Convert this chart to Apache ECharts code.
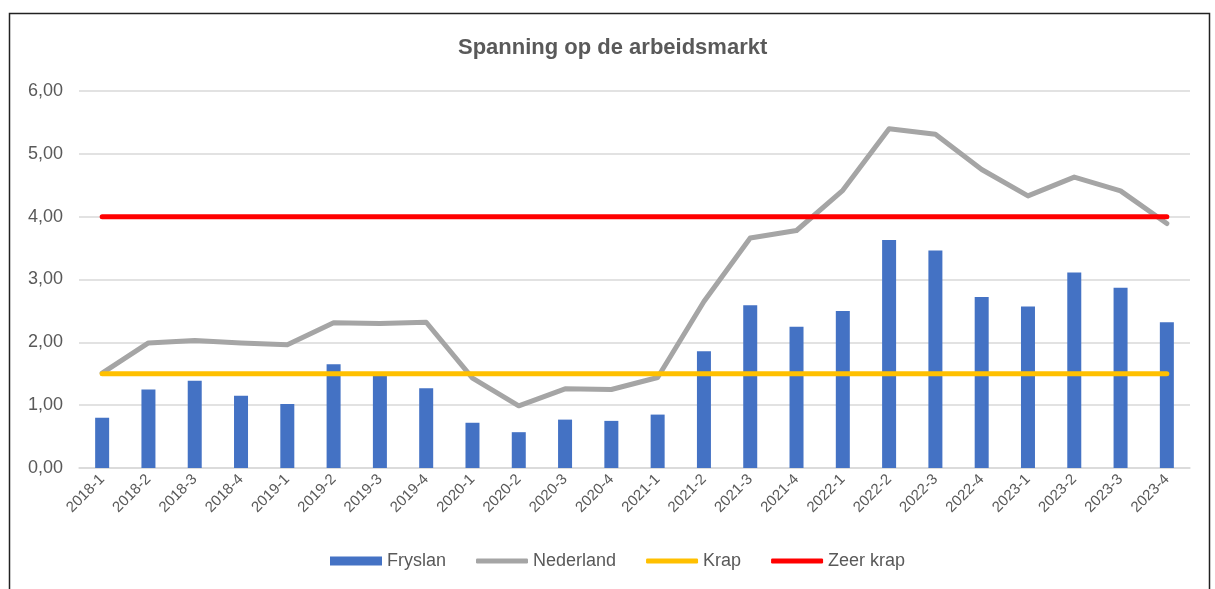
<!DOCTYPE html>
<html>
<head>
<meta charset="utf-8">
<script src="https://cdn.jsdelivr.net/npm/echarts@6/dist/echarts.min.js"></script>
<style>html,body{margin:0;padding:0;background:#fff;}#c{width:1215px;height:589px;}</style>
</head>
<body>
<div id="c"></div>
<script>
var categories = ['2018-1','2018-2','2018-3','2018-4','2019-1','2019-2','2019-3','2019-4','2020-1','2020-2','2020-3','2020-4','2021-1','2021-2','2021-3','2021-4','2022-1','2022-2','2022-3','2022-4','2023-1','2023-2','2023-3','2023-4'];
var fryslan = [0.80,1.25,1.39,1.15,1.02,1.65,1.50,1.27,0.72,0.57,0.77,0.75,0.85,1.86,2.59,2.25,2.50,3.63,3.46,2.72,2.57,3.11,2.87,2.32];
var nederland = [1.51,1.99,2.03,1.99,1.96,2.31,2.30,2.32,1.43,0.99,1.26,1.25,1.44,2.65,3.66,3.78,4.42,5.40,5.31,4.75,4.33,4.63,4.41,3.89];
var krap = [1.5,1.5,1.5,1.5,1.5,1.5,1.5,1.5,1.5,1.5,1.5,1.5,1.5,1.5,1.5,1.5,1.5,1.5,1.5,1.5,1.5,1.5,1.5,1.5];
var zeerKrap = [4,4,4,4,4,4,4,4,4,4,4,4,4,4,4,4,4,4,4,4,4,4,4,4];
var yTicks = {min: 0, max: 6, interval: 1};

var font = 'Liberation Sans, Arial, sans-serif';
var legendText = {fontFamily: font, fontSize: 18, color: '#595959'};
var chart = echarts.init(document.getElementById('c'), null, {renderer: 'canvas'});
chart.setOption({
  backgroundColor: '#fff',
  animation: false,
  textStyle: {fontFamily: font},
  graphic: [{
    type: 'rect', left: 7, top: 11, shape: {width: 1200, height: 610},
    style: {fill: 'none', stroke: '#222', lineWidth: 1.5}, silent: true
  }],
  title: {
    text: 'Spanning op de arbeidsmarkt', left: 453, top: 32,
    textStyle: {fontFamily: font, fontSize: 22, fontWeight: 'bold', color: '#595959'}
  },
  legend: [
    {
      left: 330, top: 552, padding: 0, itemWidth: 52, itemHeight: 9, itemGap: 26,
      textStyle: legendText,
      data: [{name: 'Fryslan', icon: 'rect'}]
    },
    {
      left: 476, top: 552, padding: 0, itemWidth: 52, itemHeight: 5, itemGap: 30,
      textStyle: legendText,
      data: [
        {name: 'Nederland', icon: 'roundRect'},
        {name: 'Krap', icon: 'roundRect'},
        {name: 'Zeer krap', icon: 'roundRect'}
      ]
    }
  ],
  grid: {left: 79, right: 25, top: 91, bottom: 121, containLabel: false},
  xAxis: {
    type: 'category', data: categories, boundaryGap: true,
    axisLine: {lineStyle: {color: '#D9D9D9', width: 1.5}},
    axisTick: {show: false},
    axisLabel: {rotate: 45, margin: 9, interval: 0, fontFamily: font, fontSize: 15, color: '#595959'}
  },
  yAxis: {
    type: 'value', min: yTicks.min, max: yTicks.max, interval: yTicks.interval,
    axisLine: {show: false}, axisTick: {show: false},
    splitLine: {lineStyle: {color: '#D9D9D9', width: 1.5}},
    axisLabel: {margin: 16, fontFamily: font, fontSize: 18, color: '#595959',
      formatter: function (v) { return v.toFixed(2).replace('.', ','); }}
  },
  series: [
    {name: 'Fryslan', type: 'bar', data: fryslan, barWidth: 14,
      itemStyle: {color: '#4472C4'}},
    {name: 'Nederland', type: 'line', data: nederland, symbol: 'none',
      lineStyle: {color: '#A5A5A5', width: 5, cap: 'round', join: 'round'}, itemStyle: {color: '#A5A5A5'}},
    {name: 'Krap', type: 'line', data: krap, symbol: 'none',
      lineStyle: {color: '#FFC000', width: 5, cap: 'round'}, itemStyle: {color: '#FFC000'}},
    {name: 'Zeer krap', type: 'line', data: zeerKrap, symbol: 'none',
      lineStyle: {color: '#FF0000', width: 5, cap: 'round'}, itemStyle: {color: '#FF0000'}}
  ]
});
</script>
</body>
</html>
